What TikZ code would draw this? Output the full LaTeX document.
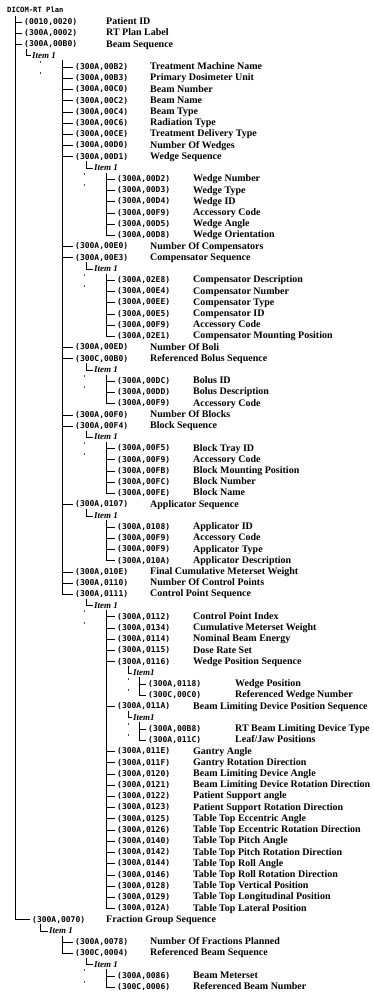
\documentclass[tikz,border=0pt]{standalone}
\usepackage{fontspec}
\setmainfont{Liberation Serif}
\newfontfamily\tagfont{DejaVu Sans Mono}
\tikzset{
  tree/.style={line width=0.8pt, black},
  dotst/.style={line width=0.8pt, black!70},
  tagst/.style={anchor=west, inner sep=0pt, font=\tagfont\bfseries\fontsize{8}{9}\selectfont, text height=6pt, text depth=1.5pt},
  namest/.style={anchor=west, inner sep=0pt, font=\bfseries\fontsize{10}{12}\selectfont, text height=7pt, text depth=2pt},
  itemst/.style={anchor=west, inner sep=0pt, font=\bfseries\itshape\fontsize{9}{11}\selectfont, text height=7pt, text depth=2pt},
  titlest/.style={anchor=west, inner sep=0pt, font=\tagfont\bfseries\fontsize{7.2}{9}\selectfont},
}
\newcommand\RY[1]{\fpeval{11+11.22*(#1)}}
% id/row, linex, tagx, namex, tag, name
\newcommand\leaf[6]{%
  \node[tagst] (t#1) at (#3,\RY{#1}) {#5};
  \node[namest] (n#1) at (#4,\RY{#1}) {#6};
  \draw[tree] (#2,\RY{#1}) -- ([xshift=-2pt]t#1.west);
}
\newcommand\LA[3]{\leaf{#1}{15.5}{24}{106}{#2}{#3}}
\newcommand\LB[3]{\leaf{#1}{62}{75}{150}{#2}{#3}}
\newcommand\LC[3]{\leaf{#1}{106}{117}{193}{#2}{#3}}
\newcommand\LD[3]{\leaf{#1}{139}{148}{235}{#2}{#3}}
% row, parent row, corner x, text x, label
\newcommand\itm[5]{%
  \node[itemst] (i#1) at (#4,\RY{#1}) {#5};
  \draw[tree] (#3,\RY{#2}+4.5) |- ([xshift=-1.5pt]i#1.west);
}
% x, item row
\newcommand\dts[2]{%
  \draw[dotst] (#1,\RY{#2+1}-6.5) -- ++(0,2);
  \draw[dotst] (#1,\RY{#2+2}-6.5) -- ++(0,2);
}
% x, first row (item row), last row
\newcommand\vl[3]{\draw[tree] (#1,\RY{#2}+4.5) -- (#1,\RY{#3});}
\begin{document}
\begin{tikzpicture}[x=1pt,y=-1pt]
\useasboundingbox (0,0) rectangle (374,993);
\node[titlest] (title) at (7,10) {DICOM-RT Plan};
\draw[tree] (15.5,15.5) -- (15.5,\RY{81});
\LA{1}{(0010,0020)}{Patient ID}
\LA{2}{(300A,0002)}{RT Plan Label}
\LA{3}{(300A,00B0)}{Beam Sequence}
\itm{4}{3}{26}{32}{Item 1}
\dts{40}{4}
\vl{62}{4}{52}
\LB{5}{(300A,00B2)}{Treatment Machine Name}
\LB{6}{(300A,00B3)}{Primary Dosimeter Unit}
\LB{7}{(300A,00C0)}{Beam Number}
\LB{8}{(300A,00C2)}{Beam Name}
\LB{9}{(300A,00C4)}{Beam Type}
\LB{10}{(300A,00C6)}{Radiation Type}
\LB{11}{(300A,00CE)}{Treatment Delivery Type}
\LB{12}{(300A,00D0)}{Number Of Wedges}
\LB{13}{(300A,00D1)}{Wedge Sequence}
\itm{14}{13}{86}{94}{Item 1}
\dts{84}{14}
\vl{106}{14}{20}
\LC{15}{(300A,00D2)}{Wedge Number}
\LC{16}{(300A,00D3)}{Wedge Type}
\LC{17}{(300A,00D4)}{Wedge ID}
\LC{18}{(300A,00F9)}{Accessory Code}
\LC{19}{(300A,00D5)}{Wedge Angle}
\LC{20}{(300A,00D8)}{Wedge Orientation}
\LB{21}{(300A,00E0)}{Number Of Compensators}
\LB{22}{(300A,00E3)}{Compensator Sequence}
\itm{23}{22}{86}{94}{Item 1}
\dts{84}{23}
\vl{106}{23}{29}
\LC{24}{(300A,02E8)}{Compensator Description}
\LC{25}{(300A,00E4)}{Compensator Number}
\LC{26}{(300A,00EE)}{Compensator Type}
\LC{27}{(300A,00E5)}{Compensator ID}
\LC{28}{(300A,00F9)}{Accessory Code}
\LC{29}{(300A,02E1)}{Compensator Mounting Position}
\LB{30}{(300A,00ED)}{Number Of Boli}
\LB{31}{(300C,00B0)}{Referenced Bolus Sequence}
\itm{32}{31}{86}{94}{Item 1}
\dts{84}{32}
\vl{106}{32}{35}
\LC{33}{(300A,00DC)}{Bolus ID}
\LC{34}{(300A,00DD)}{Bolus Description}
\LC{35}{(300A,00F9)}{Accessory Code}
\LB{36}{(300A,00F0)}{Number Of Blocks}
\LB{37}{(300A,00F4)}{Block Sequence}
\itm{38}{37}{86}{94}{Item 1}
\dts{84}{38}
\vl{106}{38}{43}
\LC{39}{(300A,00F5)}{Block Tray ID}
\LC{40}{(300A,00F9)}{Accessory Code}
\LC{41}{(300A,00FB)}{Block Mounting Position}
\LC{42}{(300A,00FC)}{Block Number}
\LC{43}{(300A,00FE)}{Block Name}
\LB{44}{(300A,0107)}{Applicator Sequence}
\itm{45}{44}{86}{94}{Item 1}
\vl{106}{45}{49}
\LC{46}{(300A,0108)}{Applicator ID}
\LC{47}{(300A,00F9)}{Accessory Code}
\LC{48}{(300A,00F9)}{Applicator Type}
\LC{49}{(300A,010A)}{Applicator Description}
\LB{50}{(300A,010E)}{Final Cumulative Meterset Weight}
\LB{51}{(300A,0110)}{Number Of Control Points}
\LB{52}{(300A,0111)}{Control Point Sequence}
\itm{53}{52}{86}{94}{Item 1}
\dts{84}{53}
\vl{106}{53}{80}
\LC{54}{(300A,0112)}{Control Point Index}
\LC{55}{(300A,0134)}{Cumulative Meterset Weight}
\LC{56}{(300A,0114)}{Nominal Beam Energy}
\LC{57}{(300A,0115)}{Dose Rate Set}
\LC{58}{(300A,0116)}{Wedge Position Sequence}
\itm{59}{58}{128}{133}{Item1}
\dts{128}{59}
\vl{139}{59}{61}
\LD{60}{(300A,0118)}{Wedge Position}
\LD{61}{(300C,00C0)}{Referenced Wedge Number}
\LC{62}{(300A,011A)}{Beam Limiting Device Position Sequence}
\itm{63}{62}{128}{133}{Item1}
\dts{128}{63}
\vl{139}{63}{65}
\LD{64}{(300A,00B8)}{RT Beam Limiting Device Type}
\LD{65}{(300A,011C)}{Leaf/Jaw Positions}
\LC{66}{(300A,011E)}{Gantry Angle}
\LC{67}{(300A,011F)}{Gantry Rotation Direction}
\LC{68}{(300A,0120)}{Beam Limiting Device Angle}
\LC{69}{(300A,0121)}{Beam Limiting Device Rotation Direction}
\LC{70}{(300A,0122)}{Patient Support angle}
\LC{71}{(300A,0123)}{Patient Support Rotation Direction}
\LC{72}{(300A,0125)}{Table Top Eccentric Angle}
\LC{73}{(300A,0126)}{Table Top Eccentric Rotation Direction}
\LC{74}{(300A,0140)}{Table Top Pitch Angle}
\LC{75}{(300A,0142)}{Table Top Pitch Rotation Direction}
\LC{76}{(300A,0144)}{Table Top Roll Angle}
\LC{77}{(300A,0146)}{Table Top Roll Rotation Direction}
\LC{78}{(300A,0128)}{Table Top Vertical Position}
\LC{79}{(300A,0129)}{Table Top Longitudinal Position}
\LC{80}{(300A,012A)}{Table Top Lateral Position}
\leaf{81}{15.5}{32}{106}{(300A,0070)}{Fraction Group Sequence}
\itm{82}{81}{40}{49}{Item 1}
\vl{62}{82}{84}
\LB{83}{(300A,0078)}{Number Of Fractions Planned}
\LB{84}{(300C,0004)}{Referenced Beam Sequence}
\itm{85}{84}{86}{94}{Item 1}
\dts{84}{85}
\vl{106}{85}{87}
\LC{86}{(300A,0086)}{Beam Meterset}
\LC{87}{(300C,0006)}{Referenced Beam Number}
\end{tikzpicture}
\end{document}
